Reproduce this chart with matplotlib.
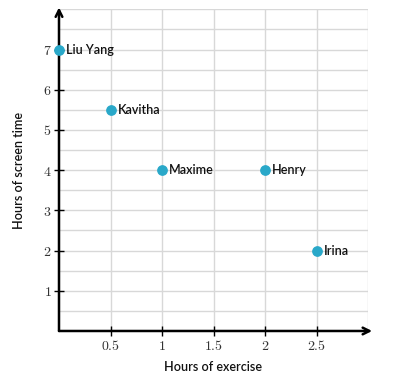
import numpy as np
import matplotlib.pyplot as plt

# data
names = ["Liu Yang", "Kavitha", "Maxime", "Henry", "Irina"]
exercise = [0, 0.5, 1, 2, 2.5]
screen = [7, 5.5, 4, 4, 2]

xticks = [0.5, 1, 1.5, 2, 2.5]
yticks = [1, 2, 3, 4, 5, 6, 7]

plt.rcParams['mathtext.fontset'] = 'cm'

fig = plt.figure(figsize=(4, 3.85), dpi=100)
ax = fig.add_axes([0.1475, 0.1403, 0.7725, 0.8353])

ax.set_xlim(0, 3)
ax.set_ylim(0, 8)

# light grid every half unit
for gx in np.arange(0.5, 3.01, 0.5):
    ax.axvline(gx, color="#d8d8d8", lw=1, zorder=0)
for gy in np.arange(0.5, 8.01, 0.5):
    ax.axhline(gy, color="#d8d8d8", lw=1, zorder=0)

for s in ax.spines.values():
    s.set_visible(False)

# axes drawn as arrows
ax.annotate("", xy=(3.04, 0), xytext=(0, 0), annotation_clip=False,
            arrowprops=dict(arrowstyle="->", lw=1.8, color="black",
                            shrinkA=0, shrinkB=0, mutation_scale=12))
ax.annotate("", xy=(0, 8.05), xytext=(0, 0), annotation_clip=False,
            arrowprops=dict(arrowstyle="->", lw=1.8, color="black",
                            shrinkA=0, shrinkB=0, mutation_scale=12))

ax.set_xticks(xticks)
ax.set_xticklabels([f"${t:g}$" for t in xticks])
ax.set_yticks(yticks)
ax.set_yticklabels([f"${t}$" for t in yticks])
ax.tick_params(direction="inout", length=7, width=1, color="black",
               labelsize=10, labelcolor="#333333", pad=2)

ax.scatter(exercise, screen, s=45, color="#29a8c9", zorder=5, clip_on=False)
for n, x, y in zip(names, exercise, screen):
    ax.annotate(n, (x, y), xytext=(5, 0), textcoords="offset points",
                va="center", ha="left", fontsize=9, family="Lato",
                fontweight="semibold", color="#111111", zorder=6)

ax.set_xlabel("Hours of exercise", fontsize=9, family="Lato",
              fontweight="semibold", color="#111111", labelpad=6)
ax.set_ylabel("Hours of screen time", fontsize=9, family="Lato",
              fontweight="semibold", color="#111111", labelpad=13)

fig.savefig("out.png", dpi=100)
